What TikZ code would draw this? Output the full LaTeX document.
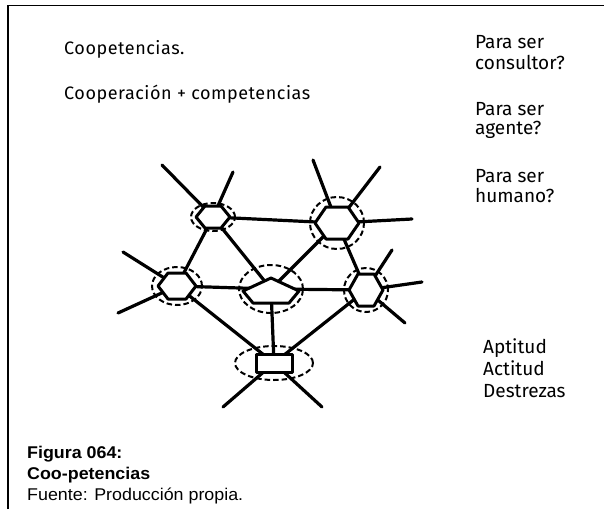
\documentclass[tikz,border=0pt]{standalone}
\usepackage{fontspec}
\setmainfont{Liberation Sans}
\newfontfamily\capfont[FakeStretch=1.05]{Liberation Sans}
\newfontfamily\handfont{Fira Sans}
\newfontfamily\handwide[LetterSpace=3]{Fira Sans}
\usetikzlibrary{backgrounds,shapes.geometric}
\begin{document}
\begin{tikzpicture}[x=1pt,y=-1pt,
  frameline/.style={line width=1.8pt},
  edge/.style={line width=3.2pt,line cap=round},
  ring/.style={draw,ellipse,line width=2pt,dash pattern=on 5.5pt off 3pt,inner sep=0pt},
  hexa/.style={line width=3pt,fill=white,line join=round},
  handleft/.style={font=\handwide\fontsize{18}{21}\selectfont,anchor=base west,inner sep=0pt},
  hand/.style={font=\handfont\fontsize{19}{21}\selectfont,anchor=base west,inner sep=0pt},
  captext/.style={font=\capfont\fontsize{17}{21}\selectfont,anchor=base west,inner sep=0pt},
  capbold/.style={font=\capfont\bfseries\fontsize{17}{21}\selectfont,anchor=base west,inner sep=0pt}
]
\useasboundingbox (0,0) rectangle (604,509);
\begin{scope}
\clip (0,0) rectangle (604,509);
% frame
\draw[frameline] (8,509) -- (8,5.5) -- (604,5.5);

% ellipse nodes (named)
\node[ring,minimum width=44pt,minimum height=28pt] (A) at (213,217) {};
\node[ring,minimum width=54pt,minimum height=52pt] (B) at (337,223) {};
\node[ring,minimum width=50pt,minimum height=38pt] (C) at (177,286) {};
\node[ring,minimum width=64pt,minimum height=48pt] (D) at (271,289) {};
\node[ring,minimum width=44pt,minimum height=44pt] (E) at (366,290) {};
\node[ring,minimum width=78pt,minimum height=34pt] (F) at (274,363) {};

% free spoke ends
\coordinate (a1) at (162,165);
\coordinate (a2) at (233,172);
\coordinate (b1) at (313,160);
\coordinate (b2) at (380,167);
\coordinate (b3) at (412,219);
\coordinate (c1) at (123,252);
\coordinate (c2) at (118,313);
\coordinate (e1) at (392,250);
\coordinate (e2) at (422,282);
\coordinate (e3) at (405,323);
\coordinate (f1) at (223,407);
\coordinate (f2) at (322,407);

\begin{scope}[on background layer]
\draw[edge] (A.center) -- (B.center);
\draw[edge] (A.center) -- (C.center);
\draw[edge] (A.center) -- (D.center);
\draw[edge] (B.center) -- (D.center);
\draw[edge] (B.center) -- (E.center);
\draw[edge] (C.center) -- (D.center);
\draw[edge] (D.center) -- (E.center);
\draw[edge] (C.center) -- (F.center);
\draw[edge] (D.center) -- (F.center);
\draw[edge] (E.center) -- (F.center);
\draw[edge] (A.center) -- (a1);
\draw[edge] (A.center) -- (a2);
\draw[edge] (B.center) -- (b1);
\draw[edge] (B.center) -- (b2);
\draw[edge] (B.center) -- (b3);
\draw[edge] (C.center) -- (c1);
\draw[edge] (C.center) -- (c2);
\draw[edge] (E.center) -- (e1);
\draw[edge] (E.center) -- (e2);
\draw[edge] (E.center) -- (e3);
\draw[edge] (F.center) -- (f1);
\draw[edge] (F.center) -- (f2);
\end{scope}

% hexagons
\draw[hexa] ([xshift=-17pt]A.center) -- ([xshift=-8pt,yshift=-11pt]A.center) -- ([xshift=8pt,yshift=-11pt]A.center) -- ([xshift=17pt]A.center) -- ([xshift=8pt,yshift=11pt]A.center) -- ([xshift=-8pt,yshift=11pt]A.center) -- cycle;
\draw[hexa] ([xshift=-22pt]B.center) -- ([xshift=-11pt,yshift=-16pt]B.center) -- ([xshift=11pt,yshift=-16pt]B.center) -- ([xshift=22pt]B.center) -- ([xshift=11pt,yshift=16pt]B.center) -- ([xshift=-11pt,yshift=16pt]B.center) -- cycle;
\draw[hexa] ([xshift=-19pt]C.center) -- ([xshift=-9pt,yshift=-13pt]C.center) -- ([xshift=9pt,yshift=-13pt]C.center) -- ([xshift=19pt]C.center) -- ([xshift=9pt,yshift=13pt]C.center) -- ([xshift=-9pt,yshift=13pt]C.center) -- cycle;
\draw[hexa] ([xshift=-28pt,yshift=-2pt]D.center) -- ([xshift=-18pt,yshift=-14pt]D.center) -- ([xshift=18pt,yshift=-14pt]D.center) -- ([xshift=28pt,yshift=-2pt]D.center) -- ([yshift=11pt]D.center) -- cycle;
\draw[hexa] ([xshift=-17pt]E.center) -- ([xshift=-8pt,yshift=-16pt]E.center) -- ([xshift=8pt,yshift=-16pt]E.center) -- ([xshift=17pt]E.center) -- ([xshift=8pt,yshift=16pt]E.center) -- ([xshift=-8pt,yshift=16pt]E.center) -- cycle;
\draw[hexa] ([xshift=-18pt,yshift=-9pt]F.center) rectangle ([xshift=18pt,yshift=9pt]F.center);

% texts
\node[handleft] (t1) at (64,54.5) {Coopetencias.};
\node[handleft] (t2) at (64,99.5) {Cooperación + competencias};
\node[hand] (q1a) at (475,48) {Para ser};
\node[hand] (q1b) at (475,69) {consultor?};
\node[hand] (q2a) at (475,115) {Para ser};
\node[hand] (q2b) at (475,134) {agente?};
\node[hand] (q3a) at (475,182) {Para ser};
\node[hand] (q3b) at (475,202) {humano?};
\node[hand] (r1) at (483,353) {Aptitud};
\node[hand] (r2) at (483,375) {Actitud};
\node[hand] (r3) at (483,397) {Destrezas};

\node[capbold] (c1t) at (27,458) {Figura 064:};
\node[capbold] (c2t) at (27,479) {Coo-petencias};
\node[captext] (c3t) at (27,500) {Fuente: Producción propia.};
\end{scope}
\end{tikzpicture}
\end{document}
